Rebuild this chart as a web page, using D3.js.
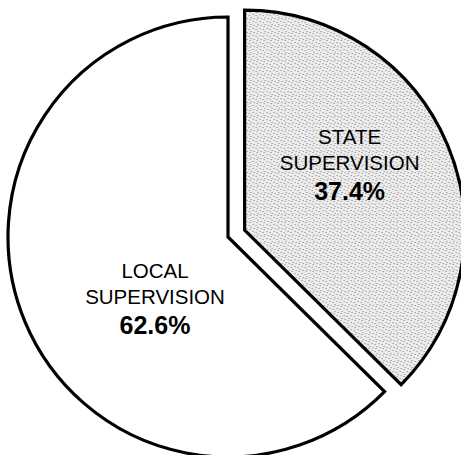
<!DOCTYPE html>
<html lang="en">
<head>
    <meta charset="UTF-8">
    <title>State vs Local Supervision</title>
    <script src="https://d3js.org/d3.v7.min.js"></script>
    <style>
        body { margin: 0; background: #fff; }
        svg { display: block; }
    </style>
</head>
<body>
    <div id="chart"></div>
    <script>
        // Data
        const categories = ["STATE", "LOCAL"];
        const shares = [37.4, 62.6];
        const pctLabels = ["37.4%", "62.6%"];

        const svg = d3.select('#chart').append('svg')
            .attr('width', 461)
            .attr('height', 455);

        const cx = 228, cy = 237, radius = 220;
        const explode = 18;   // state slice pulled out

        // stipple fill for the state slice
        const defs = svg.append("defs");
        const pat = defs.append("pattern")
            .attr("id", "stipple")
            .attr("width", 7).attr("height", 7)
            .attr("patternUnits", "userSpaceOnUse");
        pat.append("rect").attr("width", 7).attr("height", 7).attr("fill", "#ececec");
        [[1, 1], [4, 2], [2, 5], [6, 4], [5, 6]].forEach(p => {
            pat.append("rect")
                .attr("x", p[0]).attr("y", p[1])
                .attr("width", 1).attr("height", 1)
                .attr("fill", "#7a7a7a");
        });

        const pie = d3.pie().sort(null).value(d => d);
        const arcs = pie(shares);
        const arc = d3.arc().innerRadius(0).outerRadius(radius);

        const g = svg.append("g").attr("transform", `translate(${cx},${cy})`);

        const slice = g.selectAll(".slice")
            .data(arcs)
            .enter().append("g")
            .attr("class", "slice")
            .attr("transform", (d, i) => {
                if (i !== 0) return null;
                const a = (d.startAngle + d.endAngle) / 2;
                return `translate(${Math.sin(a) * explode},${-Math.cos(a) * explode})`;
            });

        slice.append("path")
            .attr("d", arc)
            .attr("fill", (d, i) => i === 0 ? "url(#stipple)" : "#fff")
            .attr("stroke", "#000")
            .attr("stroke-width", 3.2)
            .attr("stroke-linejoin", "miter");

        // label block position relative to each slice's centre
        const labelOffset = [[105, -60], [-73, 67]];

        const labels = slice.append("text")
            .attr("text-anchor", "middle")
            .attr("font-family", "Arial, 'Liberation Sans', Helvetica, sans-serif")
            .attr("fill", "#000")
            .attr("transform", (d, i) => `translate(${labelOffset[i][0]},${labelOffset[i][1]})`);

        labels.append("tspan")
            .attr("x", 0).attr("y", -26)
            .attr("font-size", 20.5)
            .text((d, i) => categories[i]);
        labels.append("tspan")
            .attr("x", 0).attr("y", 0)
            .attr("font-size", 20.5)
            .text("SUPERVISION");
        labels.append("tspan")
            .attr("x", 0).attr("y", 30)
            .attr("font-size", 25)
            .attr("font-weight", "bold")
            .text((d, i) => pctLabels[i]);
    </script>
</body>
</html>
